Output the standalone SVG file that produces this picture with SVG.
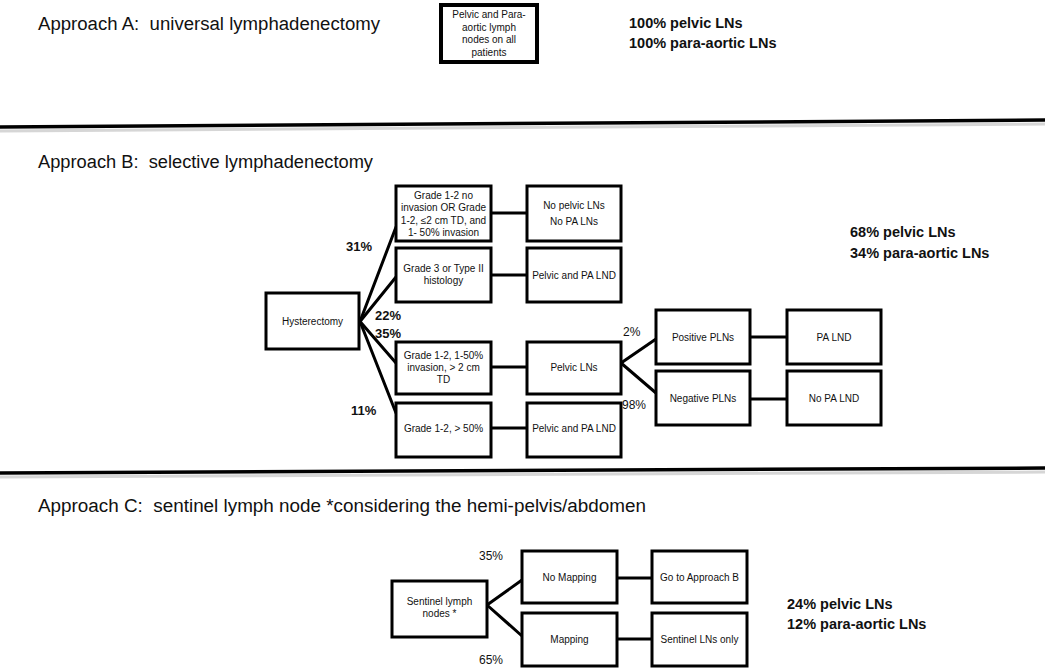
<svg xmlns="http://www.w3.org/2000/svg" width="1050" height="671" viewBox="0 0 1050 671">
<style>
text{font-family:"Liberation Sans",Arial,sans-serif;fill:#111}
.title{font-size:18px}
.nt{font-size:10px;text-anchor:middle}
.pct{font-size:13px;font-weight:bold}
.pr{font-size:12px}
.sum{font-size:14.5px;font-weight:bold}
.box{fill:#fff;stroke:#000;stroke-width:3}
.boxA{fill:#fff;stroke:#000;stroke-width:4}
.ln{stroke:#000;stroke-width:3;fill:none;stroke-linecap:round}
.sep{stroke:#000;stroke-width:3.5}
.sh{stroke:#bbb;stroke-width:3;opacity:0.6}
</style>
<rect width="1050" height="671" fill="#fff"/>

<!-- separators -->
<g id="separators">
<line class="sh" x1="0" y1="131" x2="1045" y2="124"/>
<line class="sep" x1="0" y1="127" x2="1045" y2="120"/>
<line class="sh" x1="0" y1="477" x2="1045" y2="472"/>
<line class="sep" x1="0" y1="473" x2="1045" y2="468"/>
</g>

<!-- titles -->
<g id="titles">
<text class="title" x="38" y="30" textLength="342" lengthAdjust="spacingAndGlyphs" xml:space="preserve">Approach A:  universal lymphadenectomy</text>
<text class="title" x="38" y="168" textLength="335" lengthAdjust="spacingAndGlyphs" xml:space="preserve">Approach B:  selective lymphadenectomy</text>
<text class="title" x="38" y="512" textLength="608" lengthAdjust="spacingAndGlyphs" xml:space="preserve">Approach C:  sentinel lymph node *considering the hemi-pelvis/abdomen</text>
</g>

<!-- summaries -->
<g id="summaries">
<text class="sum" x="629" y="28">100% pelvic LNs</text>
<text class="sum" x="629" y="48">100% para-aortic LNs</text>
<text class="sum" x="850" y="237">68% pelvic LNs</text>
<text class="sum" x="850" y="258">34% para-aortic LNs</text>
<text class="sum" x="787" y="609">24% pelvic LNs</text>
<text class="sum" x="787" y="629">12% para-aortic LNs</text>
</g>

<!-- connectors -->
<g id="connectors">
<line class="ln" x1="360" y1="321.5" x2="396" y2="227"/>
<line class="ln" x1="360" y1="321.5" x2="396" y2="277"/>
<line class="ln" x1="360" y1="321.5" x2="396" y2="363"/>
<line class="ln" x1="360" y1="321.5" x2="396" y2="413"/>
<circle cx="359" cy="321.5" r="3" fill="#000"/>
<line class="ln" x1="491" y1="213" x2="527" y2="213"/>
<line class="ln" x1="491" y1="275" x2="527" y2="275"/>
<line class="ln" x1="491" y1="367" x2="527" y2="367"/>
<line class="ln" x1="491" y1="428" x2="527" y2="428"/>
<line class="ln" x1="621" y1="363" x2="656" y2="339"/>
<line class="ln" x1="621" y1="363" x2="656" y2="393"/>
<line class="ln" x1="750" y1="337" x2="787" y2="337"/>
<line class="ln" x1="750" y1="399" x2="787" y2="399"/>
<line class="ln" x1="487" y1="605" x2="522" y2="580"/>
<line class="ln" x1="487" y1="605" x2="522" y2="636"/>
<line class="ln" x1="617" y1="578" x2="652" y2="578"/>
<line class="ln" x1="617" y1="639" x2="652" y2="639"/>
</g>

<!-- Approach A -->
<g id="nodeA">
<rect class="boxA" x="441" y="5" width="96" height="57"/>
<text class="nt" x="489" y="18">Pelvic and Para-</text>
<text class="nt" x="489" y="30.5">aortic lymph</text>
<text class="nt" x="489" y="43">nodes on all</text>
<text class="nt" x="489" y="55.5">patients</text>
</g>

<!-- Approach B -->
<g id="hysterectomy">
<rect class="box" x="266" y="293" width="93" height="56"/>
<text class="nt" x="312.5" y="325">Hysterectomy</text>
</g>
<g id="b1">
<rect class="box" x="396" y="186" width="95" height="55"/>
<text class="nt" x="443.5" y="198.5">Grade 1-2 no</text>
<text class="nt" x="443.5" y="211">invasion OR Grade</text>
<text class="nt" x="443.5" y="223.5">1-2, ≤2 cm TD, and</text>
<text class="nt" x="443.5" y="236">1- 50% invasion</text>
</g>
<g id="b2">
<rect class="box" x="527" y="186" width="94" height="55"/>
<text class="nt" x="574" y="209">No pelvic LNs</text>
<text class="nt" x="574" y="225">No PA LNs</text>
</g>
<g id="b3">
<rect class="box" x="396" y="248" width="95" height="54"/>
<text class="nt" x="443.5" y="272">Grade 3 or Type II</text>
<text class="nt" x="443.5" y="284">histology</text>
</g>
<g id="b4">
<rect class="box" x="527" y="248" width="94" height="54"/>
<text class="nt" x="574" y="279">Pelvic and PA LND</text>
</g>
<g id="b5">
<rect class="box" x="396" y="342" width="95" height="52"/>
<text class="nt" x="443.5" y="358.5">Grade 1-2, 1-50%</text>
<text class="nt" x="443.5" y="370.5">invasion, &gt; 2 cm</text>
<text class="nt" x="443.5" y="382.5">TD</text>
</g>
<g id="b6">
<rect class="box" x="527" y="342" width="94" height="52"/>
<text class="nt" x="574" y="371">Pelvic LNs</text>
</g>
<g id="b7">
<rect class="box" x="396" y="403" width="95" height="54"/>
<text class="nt" x="443.5" y="432">Grade 1-2, &gt; 50%</text>
</g>
<g id="b8">
<rect class="box" x="527" y="403" width="94" height="54"/>
<text class="nt" x="574" y="432">Pelvic and PA LND</text>
</g>
<g id="b9">
<rect class="box" x="656" y="310" width="94" height="54"/>
<text class="nt" x="703" y="341">Positive PLNs</text>
</g>
<g id="b10">
<rect class="box" x="787" y="310" width="94" height="54"/>
<text class="nt" x="834" y="341">PA LND</text>
</g>
<g id="b11">
<rect class="box" x="656" y="371" width="94" height="54"/>
<text class="nt" x="703" y="402">Negative PLNs</text>
</g>
<g id="b12">
<rect class="box" x="787" y="371" width="94" height="54"/>
<text class="nt" x="834" y="402">No PA LND</text>
</g>
<g id="labelsB">
<text class="pct" x="346" y="251">31%</text>
<text class="pct" x="375" y="320">22%</text>
<text class="pct" x="375" y="338">35%</text>
<text class="pct" x="351" y="415">11%</text>
<text class="pr" x="623" y="336">2%</text>
<text class="pr" x="622" y="409">98%</text>
</g>

<!-- Approach C -->
<g id="c1">
<rect class="box" x="392" y="581" width="95" height="56"/>
<text class="nt" x="439.5" y="605">Sentinel lymph</text>
<text class="nt" x="439.5" y="617">nodes *</text>
</g>
<g id="c2">
<rect class="box" x="522" y="551" width="95" height="52"/>
<text class="nt" x="569.5" y="580.5">No Mapping</text>
</g>
<g id="c3">
<rect class="box" x="652" y="551" width="95" height="52"/>
<text class="nt" x="699.5" y="580.5">Go to Approach B</text>
</g>
<g id="c4">
<rect class="box" x="522" y="613" width="95" height="53"/>
<text class="nt" x="569.5" y="643">Mapping</text>
</g>
<g id="c5">
<rect class="box" x="652" y="613" width="95" height="53"/>
<text class="nt" x="699.5" y="643">Sentinel LNs only</text>
</g>
<g id="labelsC">
<text class="pr" x="479" y="560">35%</text>
<text class="pr" x="479" y="664">65%</text>
</g>
</svg>
